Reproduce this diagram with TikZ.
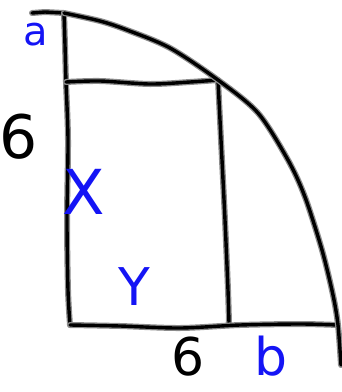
\documentclass[tikz,border=0pt]{standalone}
\usepackage{fontspec}
\setsansfont{DejaVu Sans}
\definecolor{penblue}{RGB}{20,20,245}
\definecolor{halo}{RGB}{140,140,140}
\tikzset{
  ink/.style={line width=3.4pt, line cap=round, line join=round, black,
    preaction={draw=halo, line width=6pt, line cap=round, line join=round}},
  bluelab/.style={text=penblue, font=\sffamily, inner sep=0pt},
  blacklab/.style={text=black, font=\sffamily, inner sep=0pt}
}
\begin{document}
\begin{tikzpicture}[x=1pt,y=-1pt]
\useasboundingbox (0,0) rectangle (342,392);
\coordinate (T0) at (32,13);
\coordinate (TL) at (64,13);
\coordinate (ML) at (66,82);
\coordinate (MR) at (218,80);
\coordinate (BL) at (70,325);
\coordinate (BM) at (229,323);
\coordinate (BR) at (338,325);
\coordinate (BE) at (341,365);
% top stub
\draw[ink] (T0) -- (45,12) -- (TL);
% left side
\draw[ink] plot[smooth] coordinates {(TL) (65,45) (ML) (68,140) (67,220) (68,290) (BL)};
% middle horizontal
\draw[ink] plot[smooth] coordinates {(ML) (100,81) (150,84) (190,82) (MR)};
% inner vertical
\draw[ink] plot[smooth] coordinates {(MR) (221,140) (225,220) (228,290) (BM)};
% bottom
\draw[ink] plot[smooth] coordinates {(BL) (120,326) (180,328) (240,325) (300,324) (BR)};
% arc
\draw[ink] plot[smooth] coordinates {(TL) (100,21) (127,30) (170,48) (MR) (258,113) (288,160) (305,197) (322,250) (333,295) (BR) (BE)};
% labels
\node[bluelab, font=\sffamily\fontsize{40}{40}\selectfont] (la) at (36,35) {a};
\node[blacklab, font=\sffamily\fontsize{60}{60}\selectfont] (l6a) at (19,137) {6};
\node[bluelab, font=\sffamily\fontsize{62}{62}\selectfont] (lx) at (84,192) {X};
\node[bluelab, font=\sffamily\fontsize{52}{52}\selectfont] (ly) at (134,287) {Y};
\node[blacklab, font=\sffamily\fontsize{52}{52}\selectfont] (l6b) at (188,357) {6};
\node[bluelab, font=\sffamily\fontsize{52}{52}\selectfont] (lb) at (271,356) {b};
\end{tikzpicture}
\end{document}
